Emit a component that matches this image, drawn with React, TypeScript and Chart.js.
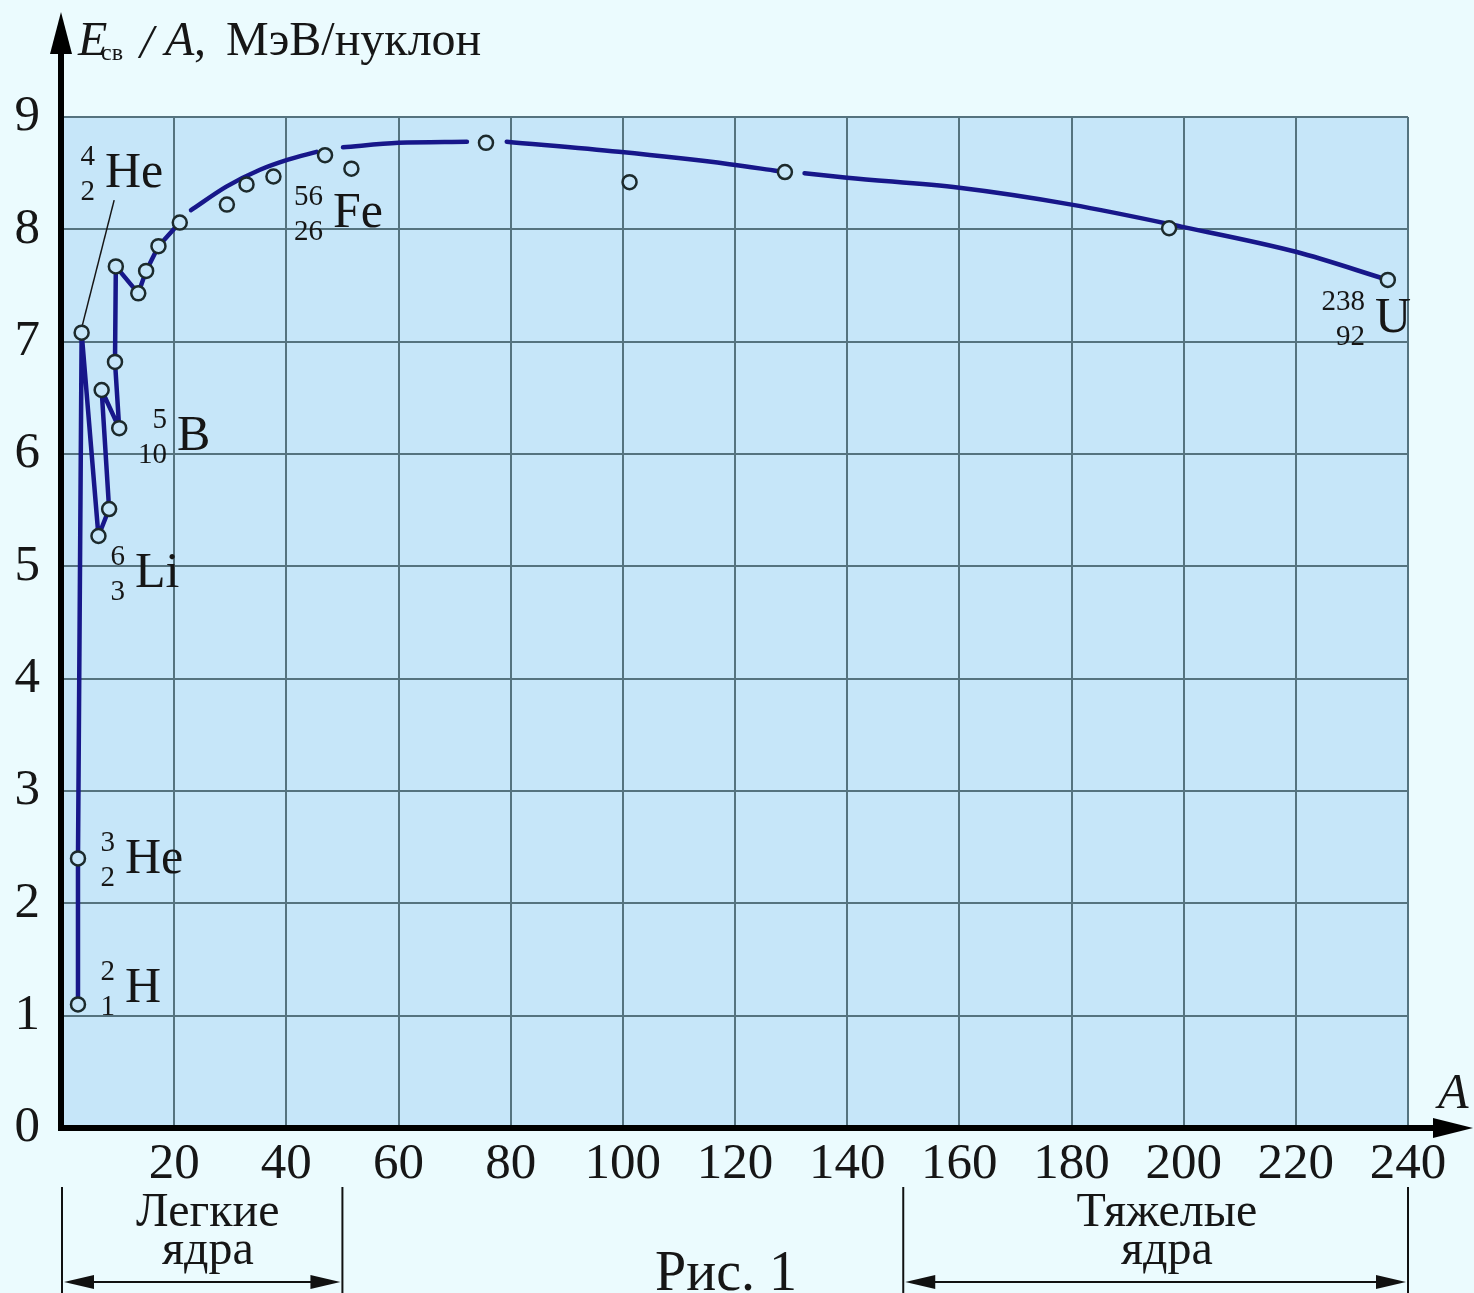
import React, { useEffect, useRef } from 'react';
import { Chart, registerables } from 'chart.js';

Chart.register(...registerables);

const PAGE_BG = '#ebfbfe';
const PLOT_BG = '#c6e6f9';
const LINE = '#17178a';
const GRID = '#55737f';
const INK = '#161616';
const FONT = '"Liberation Serif", "DejaVu Serif", serif';

// axis ranges / ticks
const xMin = 0;
const xMax = 240;
const xStep = 20;
const yMin = 0;
const yMax = 9;
const yStep = 1;

// measured nuclides (open circles): mass number A and binding energy per nucleon
const nuclideA = [2.85, 2.85, 3.5, 6.5, 8.4, 7.07, 10.2, 9.45, 9.6, 13.6, 15, 17.2, 21, 29.4, 32.9, 37.7, 46.9, 51.6, 75.6, 101.2, 128.9, 197.4, 236.4];
const nuclideE = [1.1, 2.4, 7.08, 5.27, 5.51, 6.57, 6.23, 6.82, 7.67, 7.43, 7.63, 7.85, 8.06, 8.22, 8.4, 8.47, 8.66, 8.54, 8.77, 8.42, 8.51, 8.01, 7.55];

// zig-zag line through the light nuclei
const lightA = [2.85, 2.85, 3.5, 6.5, 8.4, 7.07, 10.2, 9.45, 9.6, 13.6, 15, 17.2, 21];
const lightE = [1.1, 2.4, 7.08, 5.27, 5.51, 6.57, 6.23, 6.82, 7.67, 7.43, 7.63, 7.85, 8.06];

// smooth trend curve (null = gap in the drawn curve)
const curveA = [23, 29.3, 35.3, 40.3, 45.4, 48, 50.1, 60, 72.2, 76, 79.3, 99.3, 119, 127.5, 130, 132.4, 140, 160, 180, 200, 220, 236.4];
const curveE: (number | null)[] = [8.17, 8.38, 8.53, 8.62, 8.69, null, 8.73, 8.77, 8.78, null, 8.78, 8.69, 8.58, 8.52, null, 8.5, 8.46, 8.37, 8.22, 8.02, 7.8, 7.55];

// thin leader line to the 4He label
const leaderA = [3.6, 9.3];
const leaderE = [7.14, 8.26];

// isotope labels: symbol, mass number, charge, anchor (A, E) = left/baseline of symbol
const isoSym = ['He', 'He', 'H', 'Li', 'B', 'Fe', 'U'];
const isoSup = ['4', '3', '2', '6', '5', '56', '238'];
const isoSub = ['2', '2', '1', '3', '10', '26', '92'];
const isoA = [7.67, 11.23, 11.23, 13.02, 20.5, 48.3, 234.1];
const isoE = [8.38, 2.27, 1.12, 4.82, 6.04, 8.02, 7.09];

const xTickLabel = (v: number) => (v === 0 ? '' : String(v));

function zip(a: number[], b: (number | null)[]) {
  return a.map((x, i) => ({ x, y: b[i] }));
}

function drawText(
  ctx: CanvasRenderingContext2D,
  s: string,
  x: number,
  y: number,
  size: number,
  align: CanvasTextAlign = 'left',
  italic = false,
) {
  ctx.font = `${italic ? 'italic ' : ''}${size}px ${FONT}`;
  ctx.textAlign = align;
  ctx.textBaseline = 'alphabetic';
  ctx.fillStyle = INK;
  ctx.fillText(s, x, y);
}

function arrowHead(ctx: CanvasRenderingContext2D, tipX: number, tipY: number, dx: number, dy: number, len: number, half: number) {
  const bx = tipX - dx * len;
  const by = tipY - dy * len;
  ctx.beginPath();
  ctx.moveTo(tipX, tipY);
  ctx.lineTo(bx - dy * half, by + dx * half);
  ctx.lineTo(bx + dy * half, by - dx * half);
  ctx.closePath();
  ctx.fill();
}

const decor = {
  id: 'decor',
  beforeDraw(chart: any) {
    const { ctx, chartArea: ca, width, height } = chart;
    ctx.save();
    ctx.fillStyle = PAGE_BG;
    ctx.fillRect(0, 0, width, height);
    ctx.fillStyle = PLOT_BG;
    ctx.fillRect(ca.left, ca.top, ca.right - ca.left, ca.bottom - ca.top);
    ctx.restore();
  },
  afterDraw(chart: any) {
    const { ctx, chartArea: ca } = chart;
    const xs = chart.scales.x;
    const ys = chart.scales.y;
    ctx.save();
    ctx.strokeStyle = '#000';
    ctx.fillStyle = '#000';

    // y axis with arrow
    const x0 = ca.left - 1;
    const y0 = ca.bottom;
    ctx.lineWidth = 6;
    ctx.beginPath();
    ctx.moveTo(x0, y0 + 3);
    ctx.lineTo(x0, 45);
    ctx.stroke();
    arrowHead(ctx, x0, 12, 0, -1, 42, 11);

    // x axis with arrow
    ctx.beginPath();
    ctx.moveTo(x0 - 3, y0);
    ctx.lineTo(1440, y0);
    ctx.stroke();
    arrowHead(ctx, 1473, y0, 1, 0, 40, 10);

    // axis titles
    drawText(ctx, 'E', 78, 55, 48, 'left', true);
    drawText(ctx, 'св', 101, 60, 24);
    drawText(ctx, '/', 140, 58, 48, 'left', true);
    drawText(ctx, 'A', 165, 55, 48, 'left', true);
    drawText(ctx, ',', 194, 55, 48);
    drawText(ctx, 'МэВ/нуклон', 226, 55, 48);
    drawText(ctx, 'A', 1438, 1108, 50, 'left', true);

    // isotope labels
    for (let i = 0; i < isoSym.length; i++) {
      const px = xs.getPixelForValue(isoA[i]);
      const py = ys.getPixelForValue(isoE[i]);
      drawText(ctx, isoSym[i], px, py, 50);
      drawText(ctx, isoSup[i], px - 10, py - 22, 29, 'right');
      drawText(ctx, isoSub[i], px - 10, py + 13, 29, 'right');
    }

    // bottom brackets: light (A<50) and heavy (A>150) nuclei
    const bx = [xs.getPixelForValue(0), xs.getPixelForValue(50), xs.getPixelForValue(150), xs.getPixelForValue(240)];
    ctx.lineWidth = 2;
    ctx.strokeStyle = '#111';
    ctx.fillStyle = '#111';
    for (const b of bx) {
      ctx.beginPath();
      ctx.moveTo(b, 1187);
      ctx.lineTo(b, 1293);
      ctx.stroke();
    }
    const ay = 1282;
    const pairs = [[bx[0], bx[1]], [bx[2], bx[3]]];
    for (const [a, b] of pairs) {
      ctx.beginPath();
      ctx.moveTo(a + 20, ay);
      ctx.lineTo(b - 20, ay);
      ctx.stroke();
      arrowHead(ctx, a + 2, ay, -1, 0, 30, 7);
      arrowHead(ctx, b - 2, ay, 1, 0, 30, 7);
    }
    const lx = xs.getPixelForValue(26);
    const hx = xs.getPixelForValue(197);
    drawText(ctx, 'Легкие', lx, 1226, 48, 'center');
    drawText(ctx, 'ядра', lx, 1264, 48, 'center');
    drawText(ctx, 'Тяжелые', hx, 1226, 48, 'center');
    drawText(ctx, 'ядра', hx, 1264, 48, 'center');
    drawText(ctx, 'Рис. 1', xs.getPixelForValue(118.4), 1290, 56, 'center');

    ctx.restore();
  },
};

export default function App() {
  const ref = useRef<HTMLCanvasElement>(null);
  useEffect(() => {
    document.body.style.margin = '0';
    document.body.style.background = PAGE_BG;
    const chart = new Chart(ref.current as HTMLCanvasElement, {
      type: 'scatter',
      data: {
        datasets: [
          {
            data: zip(leaderA, leaderE),
            showLine: true,
            borderColor: INK,
            borderWidth: 1.5,
            pointRadius: 0,
            order: 4,
          },
          {
            data: zip(lightA, lightE),
            showLine: true,
            borderColor: LINE,
            borderWidth: 4.5,
            borderJoinStyle: 'round',
            borderCapStyle: 'round',
            pointRadius: 0,
            tension: 0,
            order: 3,
          },
          {
            data: zip(curveA, curveE),
            showLine: true,
            spanGaps: false,
            borderColor: LINE,
            borderWidth: 4.5,
            borderCapStyle: 'round',
            pointRadius: 0,
            cubicInterpolationMode: 'monotone',
            order: 2,
          },
          {
            data: zip(nuclideA, nuclideE),
            showLine: false,
            pointRadius: 7,
            pointBorderWidth: 2.5,
            pointBorderColor: '#1c2a2c',
            pointBackgroundColor: PLOT_BG,
            order: 1,
          },
        ] as any,
      },
      options: {
        responsive: false,
        animation: false,
        devicePixelRatio: 1,
        layout: { padding: { top: 117, right: 66, left: 0, bottom: 0 } },
        plugins: { legend: { display: false }, tooltip: { enabled: false } },
        events: [],
        scales: {
          x: {
            type: 'linear',
            position: 'bottom',
            min: xMin,
            max: xMax,
            afterFit: (s: any) => {
              s.height = 165;
            },
            ticks: {
              stepSize: xStep,
              padding: 6,
              color: INK,
              font: { family: FONT, size: 51 },
              callback: (v: any) => xTickLabel(Number(v)),
              maxRotation: 0,
              autoSkip: false,
            },
            grid: { color: GRID, lineWidth: 2, drawTicks: false },
            border: { display: false },
          },
          y: {
            type: 'linear',
            min: yMin,
            max: yMax,
            afterFit: (s: any) => {
              s.width = 62;
            },
            ticks: {
              stepSize: yStep,
              padding: 22,
              color: INK,
              font: { family: FONT, size: 51 },
            },
            grid: { color: GRID, lineWidth: 2, drawTicks: false },
            border: { display: false },
          },
        },
      } as any,
      plugins: [decor],
    });
    return () => chart.destroy();
  }, []);
  return (
    <div style={{ position: 'absolute', left: 0, top: 0, width: 1474, height: 1293 }}>
      <canvas ref={ref} width={1474} height={1293} style={{ display: 'block', width: 1474, height: 1293 }} />
    </div>
  );
}
